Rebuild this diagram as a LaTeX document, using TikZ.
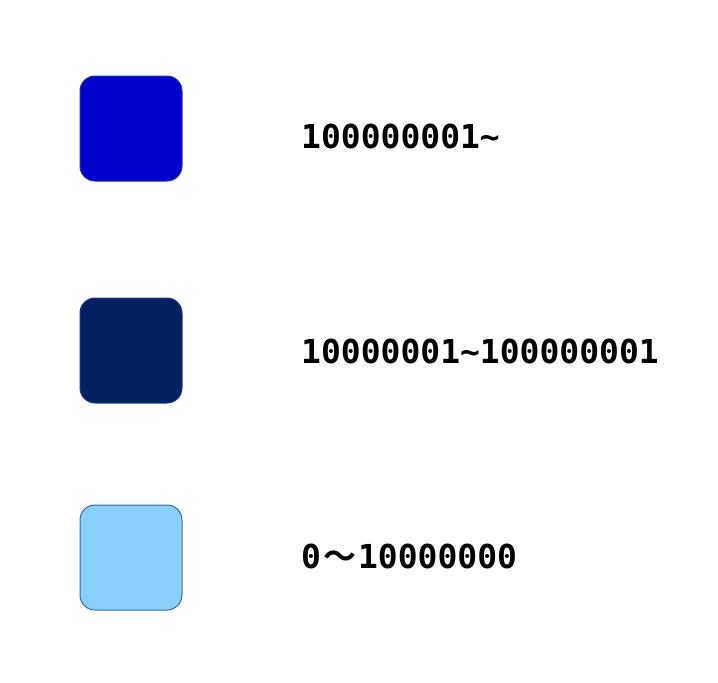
\documentclass[tikz,border=0pt]{standalone}
\usepackage{fontspec}
\newfontfamily\monob{DejaVu Sans Mono}[BoldFont={DejaVu Sans Mono Bold}]
\newfontfamily\cjk{Noto Sans CJK SC}[BoldFont={Noto Sans CJK SC Bold}]
\definecolor{c1}{HTML}{0000CC}
\definecolor{b1}{HTML}{2233A0}
\definecolor{c2}{HTML}{002060}
\definecolor{b2}{HTML}{1F3A8A}
\definecolor{c3}{HTML}{88CFFA}
\definecolor{b3}{HTML}{4166AA}
\begin{document}
\begin{tikzpicture}[x=1pt,y=-1pt,
  swatch/.style={rounded corners=15pt, line width=1pt},
  lbl/.style={anchor=west, inner sep=0pt, font=\monob\bfseries\fontsize{33}{33}\selectfont}]
\useasboundingbox (0,0) rectangle (718,683);
\draw[swatch, fill=c1, draw=b1] (80,76) rectangle (182,181);
\draw[swatch, fill=c2, draw=b2] (80,298) rectangle (182,403);
\draw[swatch, fill=c3, draw=b3] (80,505) rectangle (182,610);
\node[lbl] (t1) at (301,136) {100000001\char`~};
\node[lbl] (t2) at (301,351) {10000001\char`~100000001};
\node[lbl] (t3) at (301,556) {0\hspace{2pt}{\cjk\bfseries ～}\hspace{2pt}10000000};
\end{tikzpicture}
\end{document}
